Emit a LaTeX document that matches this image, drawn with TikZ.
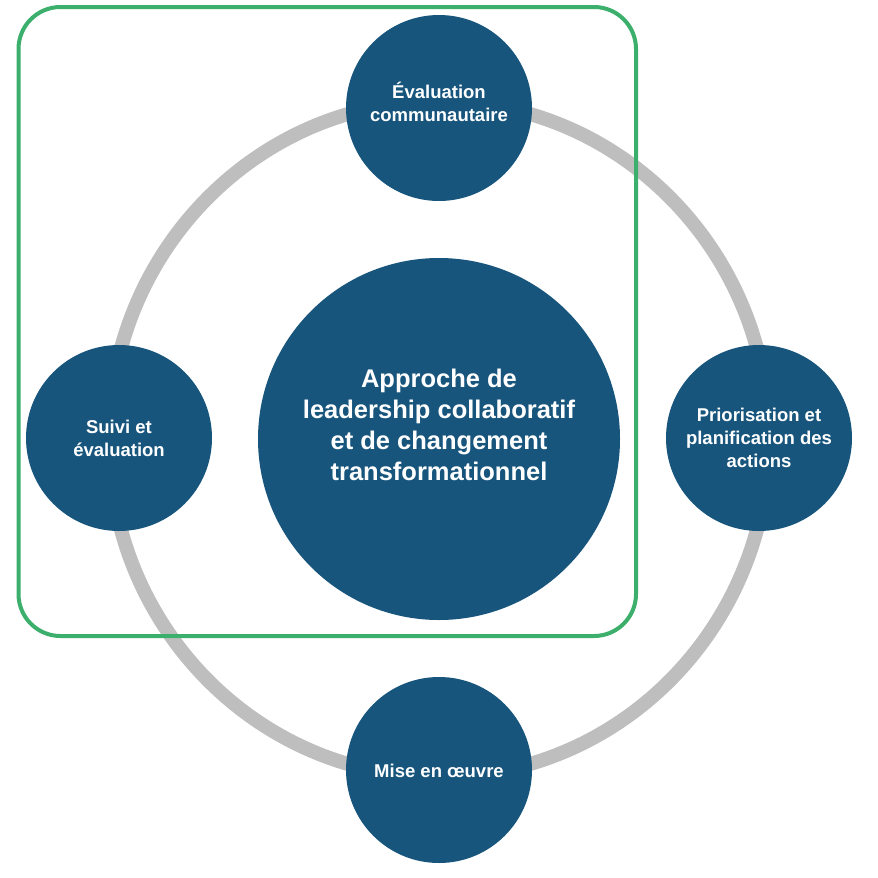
\documentclass[tikz,border=0pt]{standalone}
\usepackage{fontspec}
\setmainfont{Liberation Sans}
\definecolor{nodeblue}{RGB}{23,85,125}
\definecolor{ringgray}{RGB}{190,190,190}
\definecolor{framegreen}{RGB}{59,175,107}
\begin{document}
\begin{tikzpicture}[x=1pt,y=-1pt,
  stage/.style={circle, fill=nodeblue, minimum size=186pt, inner sep=0pt},
  core/.style={circle, fill=nodeblue, minimum size=362pt, inner sep=0pt},
  stagetext/.style={text=white, inner sep=0pt, align=center,
    font=\bfseries\fontsize{18.5}{23}\selectfont},
  coretext/.style={text=white, inner sep=0pt, align=center,
    font=\bfseries\fontsize{25.5}{31}\selectfont}]
\useasboundingbox (0,0) rectangle (878,878);
\draw[ringgray, line width=14pt] (439,439) ellipse [x radius=330, y radius=338];
\draw[framegreen, line width=4pt, rounded corners=42pt] (18.5,7) rectangle (636,636);
\node[core] (center) at (439,439) {};
\node[coretext] (centerlabel) at ([yshift=14pt]center.center) {Approche de\\leadership collaboratif\\et de changement\\transformationnel};
\node[stage] (top) at (439,108) {};
\node[stagetext] (toplabel) at ([yshift=6pt]top.center) {Évaluation\\communautaire};
\node[stage] (left) at (119,438) {};
\node[stagetext] (leftlabel) at (left.center) {Suivi et\\évaluation};
\node[stage] (right) at (759,438) {};
\node[stagetext] (rightlabel) at (right.center) {Priorisation et\\planification des\\actions};
\node[stage] (bottom) at (439,770) {};
\node[stagetext] (bottomlabel) at ([yshift=-1pt]bottom.center) {Mise en œuvre};
\end{tikzpicture}
\end{document}
